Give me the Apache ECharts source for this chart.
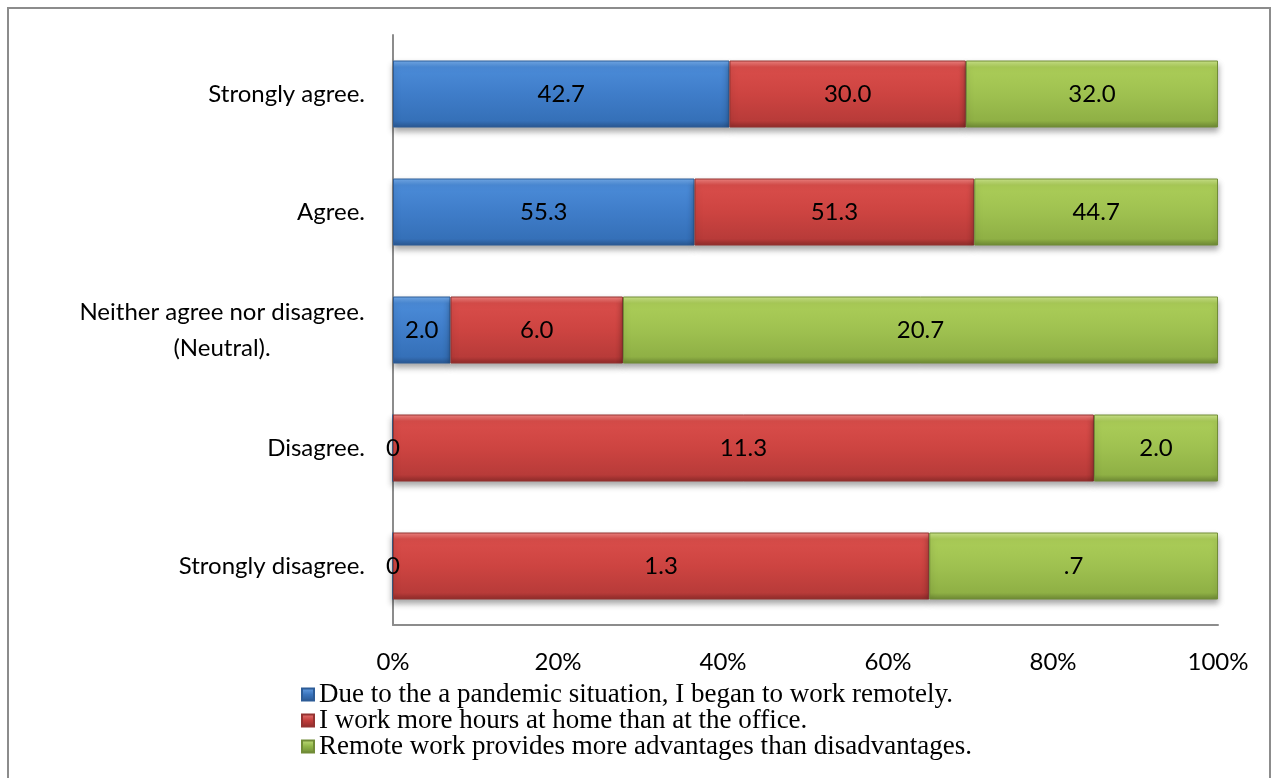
<!DOCTYPE html>
<html>
<head>
<meta charset="utf-8">
<script src="https://cdn.jsdelivr.net/npm/echarts@6/dist/echarts.min.js"></script>
<style>
  html, body { margin: 0; padding: 0; background: #ffffff; }
  #chart { width: 1277px; height: 778px; }
</style>
</head>
<body>
<div id="chart"></div>
<script>
// Survey answers, listed top to bottom
const categories = [
  'Strongly agree.',
  'Agree.',
  'Neither agree nor disagree. (Neutral).',
  'Disagree.',
  'Strongly disagree.'
];

const seriesNames = [
  'Due to the a pandemic situation, I began to work remotely.',
  'I work more hours at home than at the office.',
  'Remote work provides more advantages than disadvantages.'
];

// Percent of respondents per statement
const remoteStart = [42.7, 55.3, 2.0, 0, 0];
const moreHours   = [30.0, 51.3, 6.0, 11.3, 1.3];
const advantages  = [32.0, 44.7, 20.7, 2.0, 0.7];

const xTickLabels = ['0%', '20%', '40%', '60%', '80%', '100%'];

const rawSeries = [remoteStart, moreHours, advantages];

// Each row is shown as a 100% stacked bar
const rowTotals = categories.map((_, i) => rawSeries.reduce((s, arr) => s + arr[i], 0));

function fmtValue(v) {
  if (v === 0) return '0';
  return v.toFixed(1).replace(/^0\./, '.');
}

function grad(stops) {
  return new echarts.graphic.LinearGradient(0, 0, 0, 1,
    stops.map(([o, c]) => ({ offset: o, color: c })));
}

const fills = [
  grad([[0, '#74abe9'], [0.1, '#4b8bd8'], [0.5, '#3f7dc9'], [0.9, '#3570b8'], [1, '#2a5791']]),
  grad([[0, '#f08582'], [0.1, '#d94d4a'], [0.5, '#cd4441'], [0.9, '#b83b39'], [1, '#8e2b2a']]),
  grad([[0, '#cce48a'], [0.1, '#abcd58'], [0.5, '#9fc150'], [0.9, '#8fb045'], [1, '#6d8834']])
];
const borders = ['#2d5c97', '#943331', '#718c37'];
const legendIcons = [
  grad([[0, '#6aa3e6'], [0.5, '#3a74bd'], [1, '#2a5791']]),
  grad([[0, '#ea7a77'], [0.5, '#c13d3b'], [1, '#8e2b2a']]),
  grad([[0, '#c3df7d'], [0.5, '#90b548'], [1, '#6d8834']])
];

const series = rawSeries.map((arr, k) => ({
  name: seriesNames[k],
  type: 'bar',
  stack: 'total',
  barWidth: 67,
  data: arr.map((v, i) => ({ value: v / rowTotals[i] * 100, raw: v })),
  itemStyle: {
    color: fills[k],
    borderColor: borders[k],
    borderWidth: 1,
    shadowColor: 'rgba(0,0,0,0.35)',
    shadowBlur: 6,
    shadowOffsetY: 4
  },
  label: {
    show: true,
    position: 'inside',
    color: '#000000',
    fontFamily: 'Lato',
    fontSize: 24,
    formatter: p => fmtValue(p.data.raw)
  },
  emphasis: { disabled: true }
}));

const chart = echarts.init(document.getElementById('chart'), null, { renderer: 'canvas' });

chart.setOption({
  animation: false,
  backgroundColor: '#ffffff',
  grid: { left: 393, right: 59, top: 35, bottom: 153, containLabel: false },
  xAxis: {
    type: 'value',
    min: 0,
    max: 100,
    interval: 20,
    axisLine: { show: true, lineStyle: { color: '#8c8c8c', width: 2 } },
    axisTick: { show: false },
    splitLine: { show: false },
    axisLabel: {
      margin: 25,
      color: '#000000',
      fontFamily: 'Lato',
      fontSize: 24,
      formatter: v => xTickLabels[Math.round(v / 20)]
    }
  },
  yAxis: {
    type: 'category',
    inverse: true,
    data: categories,
    axisLine: { show: true, lineStyle: { color: '#8c8c8c', width: 2 } },
    axisTick: { show: false },
    axisLabel: {
      margin: 28,
      color: '#000000',
      fontFamily: 'Lato',
      fontSize: 24,
      lineHeight: 36,
      formatter: v => {
        if (v.indexOf('(Neutral)') >= 0) {
          return '{c|Neither agree nor disagree.}\n{c|(Neutral).}';
        }
        return v;
      },
      rich: {
        c: { width: 286, align: 'center', fontFamily: 'Lato', fontSize: 24, color: '#000000', lineHeight: 36 }
      }
    }
  },
  legend: {
    orient: 'vertical',
    left: 296,
    top: 676,
    itemWidth: 12,
    itemHeight: 12,
    itemGap: -1,
    icon: 'rect',
    selectedMode: false,
    textStyle: {
      fontFamily: 'Liberation Serif',
      fontSize: 27,
      color: '#000000'
    },
    data: seriesNames.map((n, k) => ({ name: n, itemStyle: { color: legendIcons[k] } }))
  },
  graphic: [{
    type: 'rect',
    shape: { x: 8, y: 8, width: 1262, height: 800 },
    style: { fill: 'none', stroke: '#8c8c8c', lineWidth: 2 },
    silent: true,
    z: 100
  }],
  series: series
});
</script>
</body>
</html>
